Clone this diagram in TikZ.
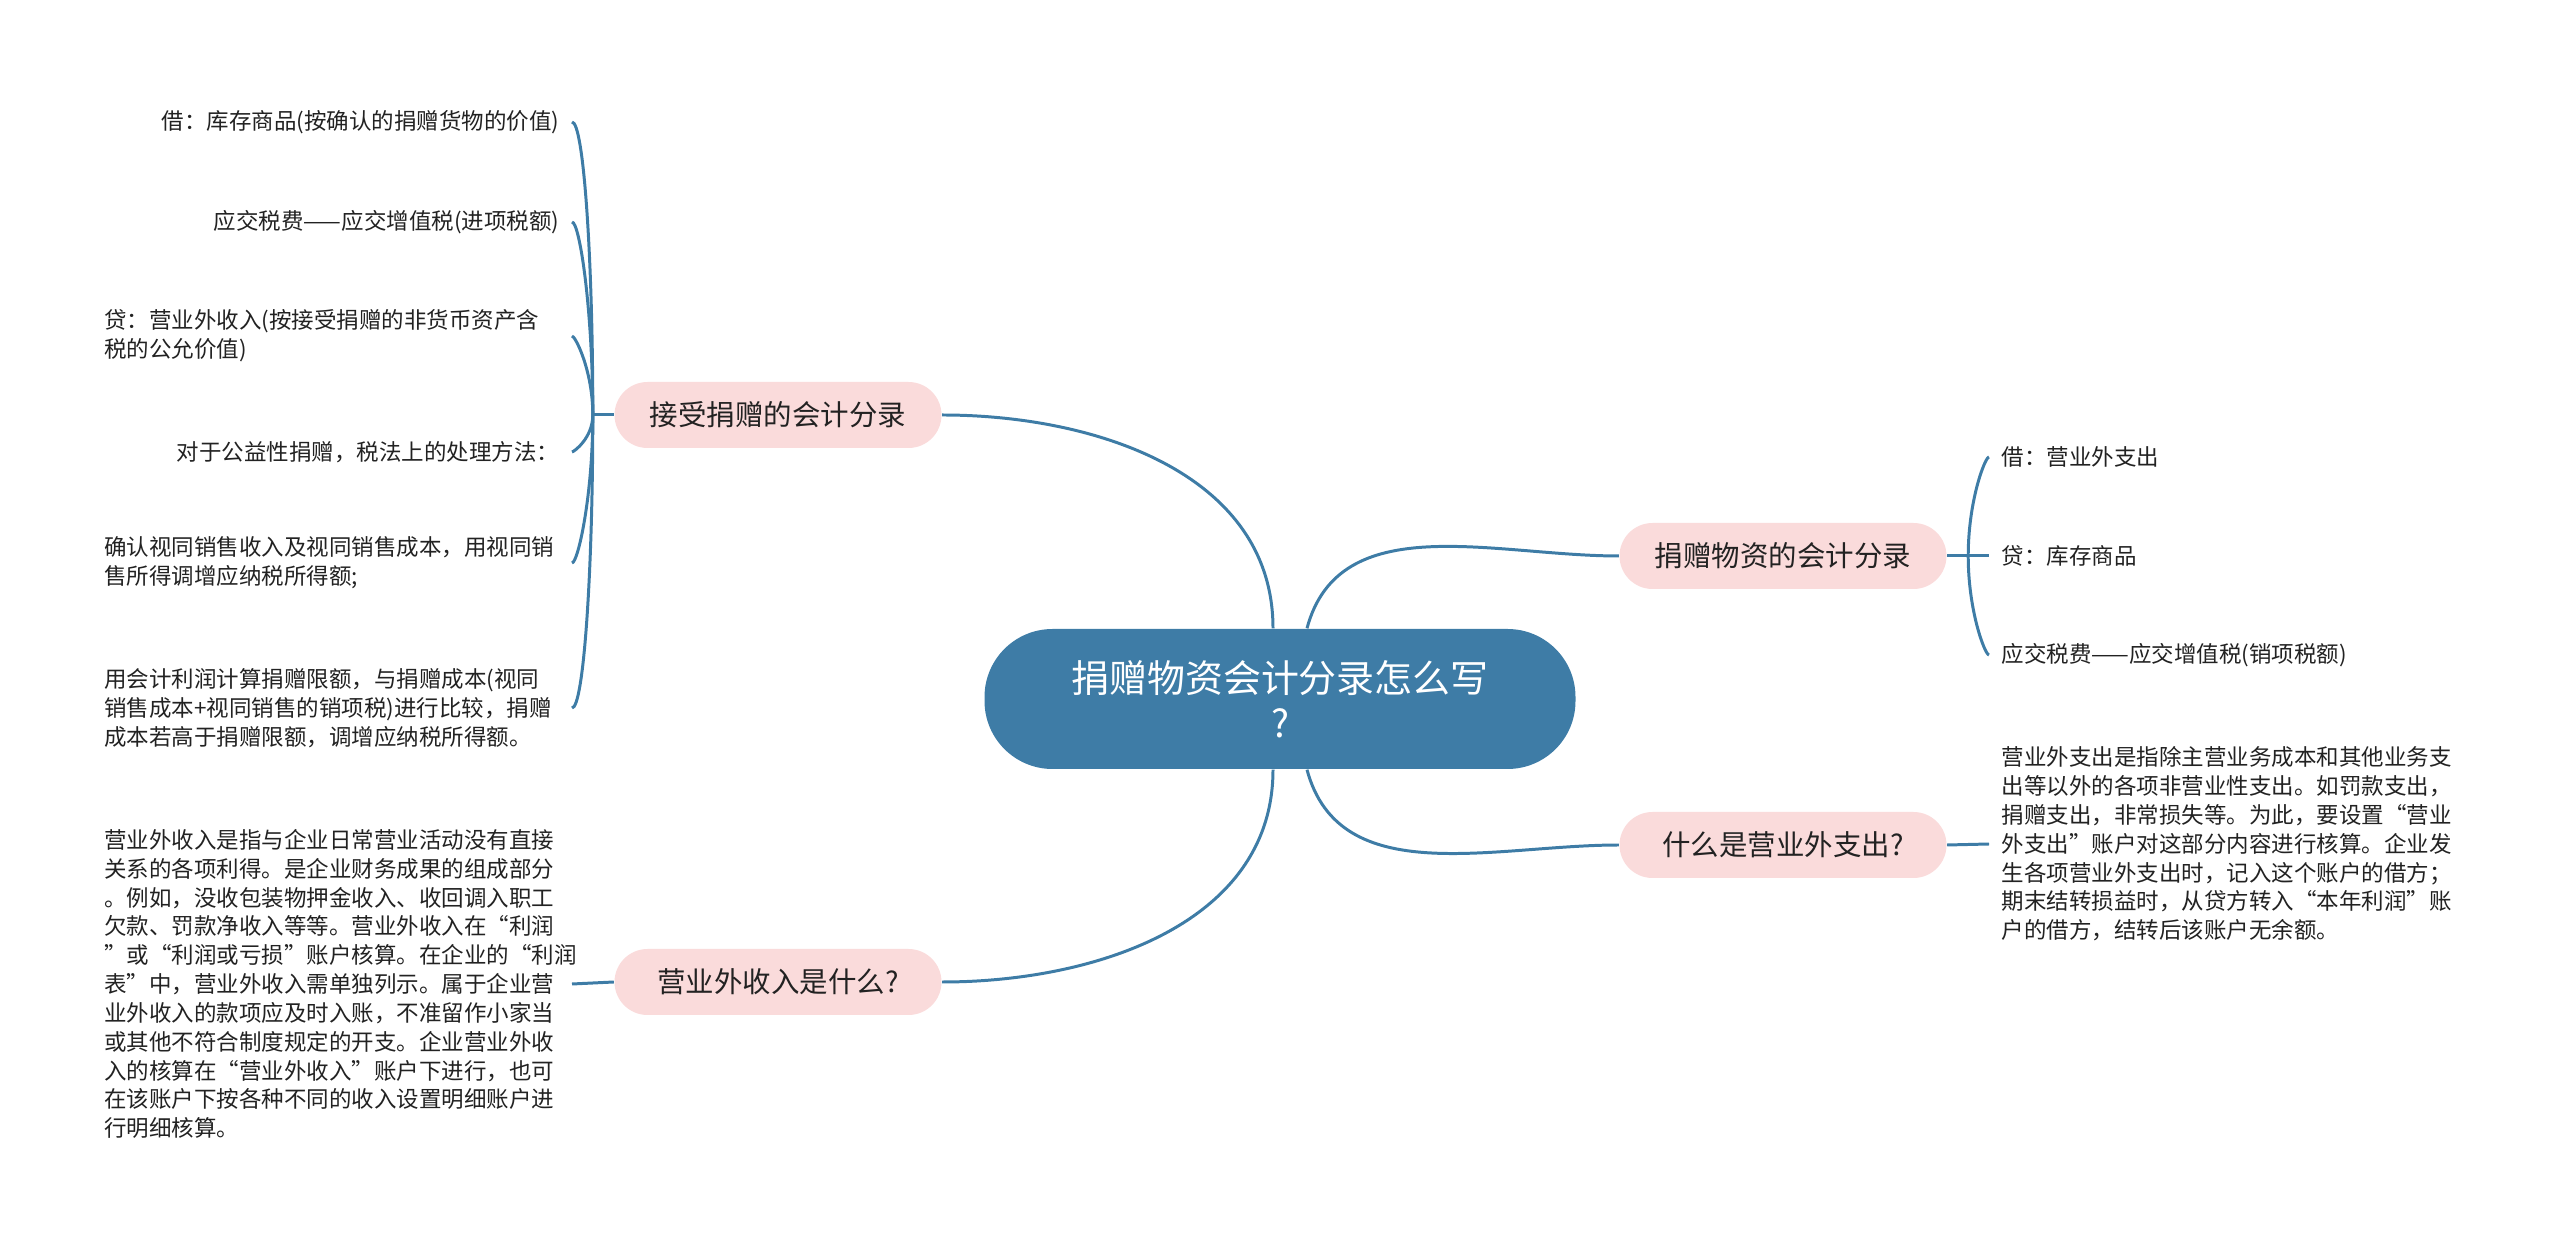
\documentclass[tikz,border=0pt]{standalone}
\usepackage{fontspec}
\setmainfont{Noto Sans CJK SC}
\definecolor{mapblue}{HTML}{3E7CA6}
\definecolor{mappink}{HTML}{FADBDB}
\definecolor{mapink}{HTML}{222222}

\begin{document}
\begin{tikzpicture}[
  mainbox/.style={fill=mapblue, text=white, rounded corners=0.68cm, minimum width=5.91cm, minimum height=1.4cm, align=center, font=\fontsize{10.8pt}{12.8pt}\selectfont},
  topicbox/.style={fill=mappink, text=mapink, rounded corners=0.33cm, minimum width=3.27cm, minimum height=0.66cm, font=\fontsize{8.1pt}{10pt}\selectfont},
  leafbox/.style={text=mapink, inner sep=0.12cm, font=\fontsize{6.4pt}{8.2pt}\selectfont},
  parabox/.style={leafbox, text width=4.55cm, align=left},
  branch/.style={draw=mapblue, line width=0.85pt},
  twig/.style={branch, out looseness=1.4, in looseness=0.1}
]
\useasboundingbox (0,0) rectangle (25.6,-12.51);

\node[mainbox] (hub) at (12.80,-6.99) {捐赠物资会计分录怎么写\\?};

\node[topicbox] (acc) at (7.78,-4.15) {接受捐赠的会计分录};
\node[topicbox] (inc) at (7.78,-9.82) {营业外收入是什么?};
\node[topicbox] (don) at (17.83,-5.56) {捐赠物资的会计分录};
\node[topicbox] (exp) at (17.83,-8.45) {什么是营业外支出?};

\node[leafbox, anchor=east] (a1) at (5.72,-1.22) {借：库存商品(按确认的捐赠货物的价值)};
\node[leafbox, anchor=east] (a2) at (5.72,-2.22) {应交税费——应交增值税(进项税额)};
\node[parabox, anchor=east] (a3) at (5.72,-3.36) {贷：营业外收入(按接受捐赠的非货币资产含\\税的公允价值)};
\node[leafbox, anchor=east] (a4) at (5.72,-4.52) {对于公益性捐赠，税法上的处理方法：};
\node[parabox, anchor=east] (a5) at (5.72,-5.63) {确认视同销售收入及视同销售成本，用视同销\\售所得调增应纳税所得额;};
\node[parabox, anchor=east] (a6) at (5.72,-7.08) {用会计利润计算捐赠限额，与捐赠成本(视同\\销售成本+视同销售的销项税)进行比较，捐赠\\成本若高于捐赠限额，调增应纳税所得额。};

\node[parabox, anchor=east] (c1) at (5.72,-9.84) {营业外收入是指与企业日常营业活动没有直接\\关系的各项利得。是企业财务成果的组成部分\\。例如，没收包装物押金收入、收回调入职工\\欠款、罚款净收入等等。营业外收入在“利润\\”或“利润或亏损”账户核算。在企业的“利润\\表”中，营业外收入需单独列示。属于企业营\\业外收入的款项应及时入账，不准留作小家当\\或其他不符合制度规定的开支。企业营业外收\\入的核算在“营业外收入”账户下进行，也可\\在该账户下按各种不同的收入设置明细账户进\\行明细核算。};

\node[leafbox, anchor=west] (b1) at (19.89,-4.57) {借：营业外支出};
\node[leafbox, anchor=west] (b2) at (19.89,-5.56) {贷：库存商品};
\node[leafbox, anchor=west] (b3) at (19.89,-6.55) {应交税费——应交增值税(销项税额)};

\node[parabox, anchor=west] (d1) at (19.89,-8.44) {营业外支出是指除主营业务成本和其他业务支\\出等以外的各项非营业性支出。如罚款支出，\\捐赠支出，非常损失等。为此，要设置“营业\\外支出”账户对这部分内容进行核算。企业发\\生各项营业外支出时，记入这个账户的借方；\\期末结转损益时，从贷方转入“本年利润”账\\户的借方，结转后该账户无余额。};

\draw[branch] ([xshift=-0.07cm]hub.north) to[out=90,in=0] (acc.east);
\draw[branch] ([xshift=-0.07cm]hub.south) to[out=-90,in=0] (inc.east);
\draw[branch] ([xshift=0.27cm]hub.north) to[out=75,in=180] (don.west);
\draw[branch] ([xshift=0.27cm]hub.south) to[out=-75,in=180] (exp.west);

\coordinate (accj) at ([xshift=-0.21cm]acc.west);
\draw[branch] (acc.west) -- (accj);
\draw[twig] (accj) to[out=90,in=0] (a1.east);
\draw[twig] (accj) to[out=90,in=0] (a2.east);
\draw[twig] (accj) to[out=90,in=0] (a3.east);
\draw[twig] (accj) to[out=-90,in=0] (a4.east);
\draw[twig] (accj) to[out=-90,in=0] (a5.east);
\draw[twig] (accj) to[out=-90,in=0] (a6.east);

\draw[branch] (inc.west) -- (c1.east);

\coordinate (donj) at ([xshift=0.21cm]don.east);
\draw[branch] (don.east) -- (b2.west);
\draw[twig] (donj) to[out=90,in=180] (b1.west);
\draw[twig] (donj) to[out=-90,in=180] (b3.west);

\draw[branch] (exp.east) -- (d1.west);
\end{tikzpicture}
\end{document}
